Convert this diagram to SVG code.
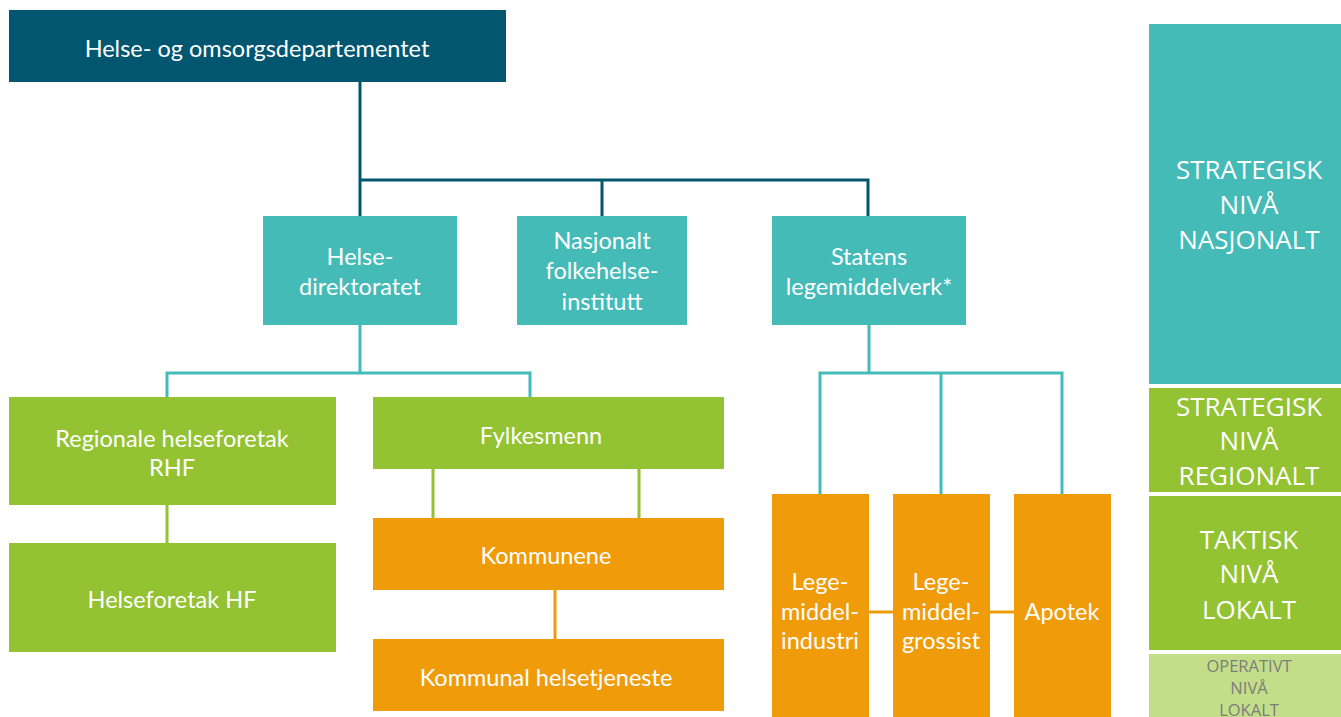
<svg xmlns="http://www.w3.org/2000/svg" width="1341" height="717" viewBox="0 0 1341 717">
<style>
.t{font-family:Lato,"Liberation Sans",sans-serif;font-size:23.5px;fill:#fff;text-anchor:middle}
.r{font-family:"Open Sans","Liberation Sans",sans-serif;font-size:26px;fill:#fff;text-anchor:middle}
.o{font-family:"Open Sans","Liberation Sans",sans-serif;font-size:16.5px;fill:#7d7d7d;text-anchor:middle}
.dark{fill:#02566f}.teal{fill:#45bbb8}.green{fill:#93c232}.orange{fill:#f09c0a}.lgreen{fill:#c2de88}
.cd{stroke:#02566f;stroke-width:3;fill:none}
.ct{stroke:#45bbb8;stroke-width:3;fill:none}
.cg{stroke:#93c232;stroke-width:3;fill:none}
.co{stroke:#f09c0a;stroke-width:3;fill:none}
</style>
<rect width="1341" height="717" fill="#fff"/>
<g id="connectors">
<path class="cd" d="M360 82V216M360 180H868V216M602 180V216"/>
<path class="ct" d="M360 325V373M167 397V373H530V397"/>
<path class="ct" d="M869 325V373M820 494V373H1062V494M941 373V494"/>
<path class="cg" d="M167 505V543M433 469V518M639 469V518"/>
<path class="co" d="M555 590V639M869 612H893M990 612H1014"/>
</g>
<g id="hod"><rect class="dark" x="9" y="10" width="497" height="72"/><text class="t" x="257" y="57">Helse- og omsorgsdepartementet</text></g>
<g id="helsedir"><rect class="teal" x="263" y="216" width="194" height="109"/><text class="t" x="360" y="265">Helse-</text><text class="t" x="360" y="295">direktoratet</text></g>
<g id="fhi"><rect class="teal" x="517" y="216" width="170" height="109"/><text class="t" x="602" y="249">Nasjonalt</text><text class="t" x="602" y="279">folkehelse-</text><text class="t" x="602" y="310">institutt</text></g>
<g id="slv"><rect class="teal" x="772" y="216" width="194" height="109"/><text class="t" x="869" y="265">Statens</text><text class="t" x="869" y="295">legemiddelverk*</text></g>
<g id="rhf"><rect class="green" x="9" y="397" width="327" height="108"/><text class="t" x="172" y="447">Regionale helseforetak</text><text class="t" x="172" y="476">RHF</text></g>
<g id="hf"><rect class="green" x="9" y="543" width="327" height="109"/><text class="t" x="172" y="608">Helseforetak HF</text></g>
<g id="fylkesmenn"><rect class="green" x="373" y="397" width="351" height="72"/><text class="t" x="541" y="444">Fylkesmenn</text></g>
<g id="kommunene"><rect class="orange" x="373" y="518" width="351" height="72"/><text class="t" x="546" y="564">Kommunene</text></g>
<g id="kommunal"><rect class="orange" x="373" y="639" width="351" height="72"/><text class="t" x="546" y="686">Kommunal helsetjeneste</text></g>
<g id="industri"><rect class="orange" x="772" y="494" width="97" height="223"/><text class="t" x="820" y="590">Lege-</text><text class="t" x="820" y="620">middel-</text><text class="t" x="820" y="649">industri</text></g>
<g id="grossist"><rect class="orange" x="893" y="494" width="97" height="223"/><text class="t" x="941" y="590">Lege-</text><text class="t" x="941" y="620">middel-</text><text class="t" x="941" y="649">grossist</text></g>
<g id="apotek"><rect class="orange" x="1014" y="494" width="97" height="223"/><text class="t" x="1062" y="620">Apotek</text></g>
<g id="lvl1"><rect class="teal" x="1149" y="24" width="192" height="360"/><text class="r" x="1249" y="179">STRATEGISK</text><text class="r" x="1249" y="214">NIVÅ</text><text class="r" x="1249" y="249">NASJONALT</text></g>
<g id="lvl2"><rect class="green" x="1149" y="388" width="192" height="104"/><text class="r" x="1249" y="416">STRATEGISK</text><text class="r" x="1249" y="450">NIVÅ</text><text class="r" x="1249" y="485">REGIONALT</text></g>
<g id="lvl3"><rect class="green" x="1149" y="496" width="192" height="154"/><text class="r" x="1249" y="549">TAKTISK</text><text class="r" x="1249" y="583">NIVÅ</text><text class="r" x="1249" y="619">LOKALT</text></g>
<g id="lvl4"><rect class="lgreen" x="1149" y="654" width="192" height="63"/><text class="o" x="1249" y="672">OPERATIVT</text><text class="o" x="1249" y="694">NIVÅ</text><text class="o" x="1249" y="716">LOKALT</text></g>
</svg>
